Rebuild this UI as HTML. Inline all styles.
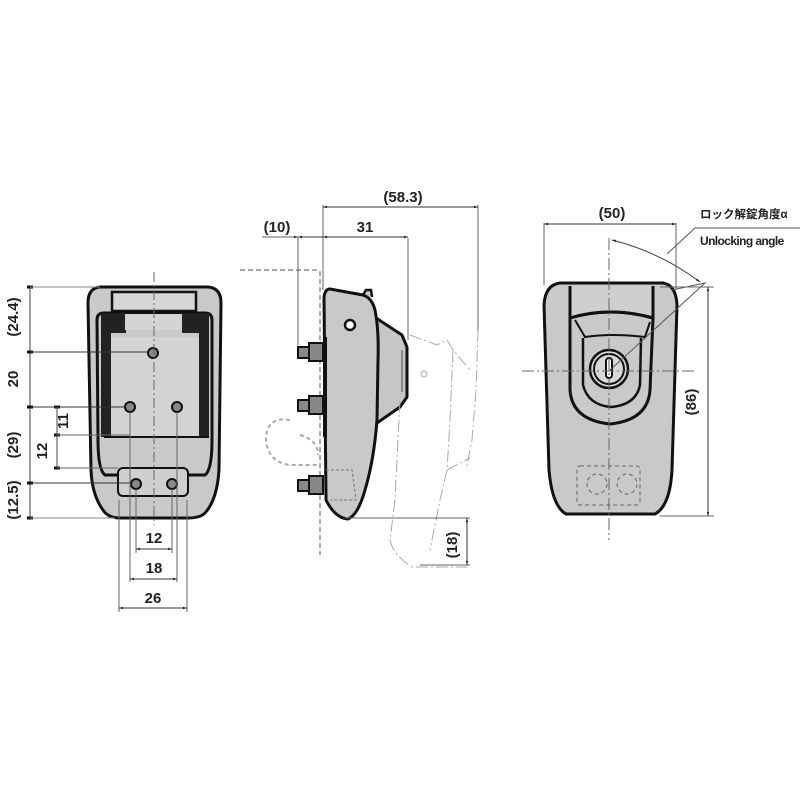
<!DOCTYPE html>
<html><head><meta charset="utf-8"><style>
html,body{margin:0;padding:0;background:#fff;}
svg{display:block;}
text{font-family:"Liberation Sans","Noto Sans CJK JP",sans-serif;font-weight:bold;fill:#222;}
</style></head><body>
<svg width="800" height="800" viewBox="0 0 800 800" xmlns="http://www.w3.org/2000/svg">
<defs>
<marker id="a" viewBox="0 0 10 10" refX="10" refY="5" markerWidth="6" markerHeight="4" orient="auto-start-reverse"><path d="M0,2 L10,5 L0,8z" fill="#222"/></marker>
</defs>
<g stroke="#333" stroke-width="1" fill="none">
<!-- LEFT VIEW -->
<path d="M100,287 L208,287 Q221,288 221,303 L219,470 Q217,500 205,513 Q200,518 188,518 L120,518 Q108,518 103,510 Q92,495 91,470 L88,303 Q88,288 100,287Z" fill="#c9c9c9" stroke="#111" stroke-width="3"/>
<rect x="112" y="292" width="84" height="19" fill="#d6d6d6" stroke="#111" stroke-width="2.5"/>
<path d="M97,320 Q97,313 104,313 L205,313 Q212,313 212,320 L212,440 Q212,470 205,475 L105,475 Q98,470 98,440Z" fill="none" stroke="#111" stroke-width="3"/>
<rect x="101" y="313" width="10" height="124" fill="#222" stroke="none"/>
<rect x="199" y="313" width="10" height="124" fill="#222" stroke="none"/>
<rect x="104" y="313" width="22" height="20" fill="#222" stroke="none"/>
<rect x="182" y="313" width="24" height="20" fill="#222" stroke="none"/>
<rect x="125" y="314" width="57" height="16" fill="#d4d4d4" stroke="none"/>
<rect x="111" y="337" width="88" height="100" fill="#d3d3d3" stroke="none"/>
<line x1="104" y1="437" x2="209" y2="437" stroke="#111" stroke-width="2"/>
<rect x="118" y="468" width="70" height="28" rx="5" fill="#cfcfcf" stroke="#111" stroke-width="2"/>
<g fill="#888" stroke="#111" stroke-width="2">
<circle cx="153" cy="353" r="5"/><circle cx="130" cy="407" r="5"/><circle cx="177" cy="407" r="5"/>
<circle cx="136" cy="484" r="5"/><circle cx="172" cy="484" r="5"/></g>
<line x1="154" y1="272" x2="154" y2="525" stroke="#666" stroke-dasharray="10,3,2,3"/>
<!-- left dims -->
<line x1="30" y1="287" x2="30" y2="518" stroke="#444"/>
<g stroke="#111" stroke-width="3"><line x1="27" y1="287" x2="33" y2="287"/><line x1="27" y1="352" x2="33" y2="352"/><line x1="27" y1="407" x2="33" y2="407"/><line x1="27" y1="483" x2="33" y2="483"/><line x1="27" y1="518" x2="33" y2="518"/>
<line x1="54" y1="407" x2="60" y2="407"/><line x1="54" y1="435" x2="60" y2="435"/><line x1="54" y1="468" x2="60" y2="468"/></g>
<line x1="30" y1="287" x2="100" y2="287" stroke="#888"/>
<line x1="30" y1="352" x2="148" y2="352"/>
<line x1="30" y1="407" x2="125" y2="407"/>
<line x1="30" y1="483" x2="131" y2="483"/>
<line x1="30" y1="518" x2="115" y2="518" stroke="#888"/>
<line x1="57" y1="407" x2="57" y2="468" stroke="#444"/>
<line x1="57" y1="435" x2="130" y2="435" stroke="#666"/>
<line x1="57" y1="468" x2="118" y2="468" stroke="#666"/>
<!-- bottom dims -->
<line x1="136" y1="489" x2="136" y2="553" stroke="#666"/><line x1="172" y1="489" x2="172" y2="553" stroke="#666"/>
<line x1="130" y1="412" x2="130" y2="582" stroke="#666"/><line x1="177" y1="412" x2="177" y2="582" stroke="#666"/>
<line x1="119" y1="500" x2="119" y2="612" stroke="#666"/><line x1="187" y1="500" x2="187" y2="612" stroke="#666"/>
<line x1="136" y1="549" x2="172" y2="549" marker-start="url(#a)" marker-end="url(#a)"/>
<line x1="130" y1="579" x2="177" y2="579" marker-start="url(#a)" marker-end="url(#a)"/>
<line x1="119" y1="608" x2="187" y2="608" marker-start="url(#a)" marker-end="url(#a)"/>

<!-- MIDDLE VIEW -->
<path d="M240,270 L318,270 L320,272 L320,555" stroke="#aaa" stroke-width="2" stroke-dasharray="5,3"/>
<path d="M290,420 Q266,416 266,440 Q268,462 290,465 L318,465 M300,435 Q318,440 318,455" stroke="#aaa" stroke-width="2" stroke-dasharray="4,3"/>
<path d="M376,318 L402,335 L407,347 L407,397 L400,407 L377,423" fill="#c6c6c6" stroke="#111" stroke-width="3"/>
<line x1="402" y1="350" x2="402" y2="392" stroke="#777" stroke-width="1.5"/>
<path d="M363,295 L366,290 L371,290 L372,297" fill="#ccc" stroke="#111" stroke-width="2.5"/>
<path d="M330,289 L363,295 Q372,298 375,310 Q379,330 378,360 L377,420 Q374,460 365,490 Q358,515 348,519 Q335,518 326,500 L324,297 Q325,289 330,289Z" fill="#c9c9c9" stroke="#111" stroke-width="3"/>
<circle cx="350" cy="325" r="5" fill="#fff" stroke="#111" stroke-width="2.5"/>
<line x1="325" y1="337" x2="325" y2="437" stroke="#111" stroke-width="4"/>
<path d="M326,470 L352,470 L356,500 L330,500" stroke="#777" stroke-dasharray="3,2"/>
<g fill="#888" stroke="#111" stroke-width="2">
<rect x="298" y="347" width="12" height="11"/><rect x="309" y="343" width="14" height="18"/>
<rect x="298" y="400" width="12" height="11"/><rect x="309" y="396" width="14" height="18"/>
<rect x="298" y="480" width="12" height="11"/><rect x="309" y="476" width="14" height="18"/></g>
<!-- phantom handle -->
<g stroke="#aaa" stroke-dasharray="12,3,2,3">
<path d="M410,335 L437,345 L447,340 L453,350 L470,370"/>
<path d="M453,350 L450,420 L447,470 L440,500 L430,550"/>
<path d="M478,330 L476,390 L472,440 L466,470"/>
<path d="M447,470 L470,458"/>
<path d="M400,400 L395,500 L390,540 Q393,555 412,567 L470,567"/>
</g>
<circle cx="424" cy="374" r="3" stroke="#aaa"/>
<!-- middle dims -->
<line x1="298" y1="238" x2="298" y2="345" stroke="#666"/>
<line x1="323" y1="205" x2="323" y2="290" stroke="#666"/>
<line x1="408" y1="238" x2="408" y2="340" stroke="#666"/>
<line x1="478" y1="205" x2="478" y2="330" stroke="#666"/>
<line x1="262" y1="237" x2="298" y2="237" stroke="#666" marker-end="url(#a)"/>
<line x1="298" y1="237" x2="323" y2="237" marker-start="url(#a)"/>
<line x1="323" y1="237" x2="408" y2="237" marker-start="url(#a)" marker-end="url(#a)"/>
<line x1="323" y1="207" x2="478" y2="207" marker-start="url(#a)" marker-end="url(#a)"/>
<line x1="345" y1="518" x2="470" y2="518" stroke="#666"/>
<line x1="420" y1="565" x2="470" y2="565" stroke="#666"/>
<line x1="467" y1="518" x2="467" y2="565" marker-start="url(#a)" marker-end="url(#a)"/>

<!-- RIGHT VIEW -->
<path d="M560,283 L663,283 Q676,285 677,305 L672,470 Q670,506 655,514 L566,514 Q552,506 549,470 L544,305 Q545,285 560,283Z" fill="#c9c9c9" stroke="#111" stroke-width="3"/>
<path d="M570,286 L570,318 Q610,306 653,318 L653,286" fill="#cfcfcf" stroke="#111" stroke-width="3"/>
<path d="M570,318 L570,390 Q572,420 610,424 Q648,420 650,390 L653,318 Q610,306 570,318Z" stroke="#111" stroke-width="3"/>
<path d="M575,320 L585,337 Q612,333 645,337 L650,322" stroke="#111" stroke-width="2"/>
<path d="M583,338 L583,385 Q588,405 611,407 Q636,405 640,385 L641,338" stroke="#111" stroke-width="2.5"/>
<circle cx="609" cy="369" r="19" fill="#d8d8d8" stroke="#111" stroke-width="2.5"/>
<circle cx="609" cy="369" r="15" stroke="#111" stroke-width="2"/>
<rect x="606" y="358" width="6" height="20" rx="3" fill="#fff" stroke="#111" stroke-width="2"/>
<line x1="522" y1="371" x2="696" y2="371" stroke="#666" stroke-dasharray="12,3,2,3"/>
<line x1="609" y1="238" x2="609" y2="540" stroke="#666" stroke-dasharray="12,3,2,3"/>
<rect x="577" y="466" width="63" height="39" rx="3" stroke="#666" stroke-dasharray="4,3"/>
<circle cx="597" cy="484" r="10" stroke="#666" stroke-dasharray="4,3"/>
<circle cx="627" cy="484" r="10" stroke="#666" stroke-dasharray="4,3"/>
<path d="M612,240 Q660,252 700,282" stroke="#444" marker-start="url(#a)" marker-end="url(#a)"/>
<path d="M609,371 L705,283 L672,290" stroke="#555"/>
<path d="M667,254 L695,228 L800,228" stroke="#555"/>
<line x1="544" y1="223" x2="544" y2="285" stroke="#666"/>
<line x1="676" y1="223" x2="676" y2="290" stroke="#666"/>
<line x1="544" y1="224" x2="676" y2="224" marker-start="url(#a)" marker-end="url(#a)"/>
<line x1="660" y1="287" x2="714" y2="287" stroke="#666"/>
<line x1="660" y1="516" x2="714" y2="516" stroke="#666"/>
<line x1="708" y1="287" x2="708" y2="516" marker-start="url(#a)" marker-end="url(#a)"/>
</g>
<g font-size="15">
<text x="14" y="317" text-anchor="middle" transform="rotate(-90 14 317)" dominant-baseline="middle">(24.4)</text>
<text x="14" y="379" text-anchor="middle" transform="rotate(-90 14 379)" dominant-baseline="middle">20</text>
<text x="14" y="445" text-anchor="middle" transform="rotate(-90 14 445)" dominant-baseline="middle">(29)</text>
<text x="14" y="500" text-anchor="middle" transform="rotate(-90 14 500)" dominant-baseline="middle">(12.5)</text>
<text x="43" y="451" text-anchor="middle" transform="rotate(-90 43 451)" dominant-baseline="middle">12</text>
<text x="64" y="421" text-anchor="middle" transform="rotate(-90 64 421)" dominant-baseline="middle">11</text>
<text x="154" y="543" text-anchor="middle">12</text>
<text x="154" y="573" text-anchor="middle">18</text>
<text x="153" y="603" text-anchor="middle">26</text>
<text x="277" y="232" text-anchor="middle">(10)</text>
<text x="365" y="232" text-anchor="middle">31</text>
<text x="403" y="202" text-anchor="middle">(58.3)</text>
<text x="453" y="545" text-anchor="middle" transform="rotate(-90 453 545)" dominant-baseline="middle">(18)</text>
<text x="612" y="218" text-anchor="middle">(50)</text>
<text x="692" y="402" text-anchor="middle" transform="rotate(-90 692 402)" dominant-baseline="middle">(86)</text>
</g>
<text x="700" y="218" font-size="11.5">ロック解錠角度α</text>
<text x="700" y="245" font-size="12" style="letter-spacing:-0.6px">Unlocking angle</text>
</svg>
</body></html>
